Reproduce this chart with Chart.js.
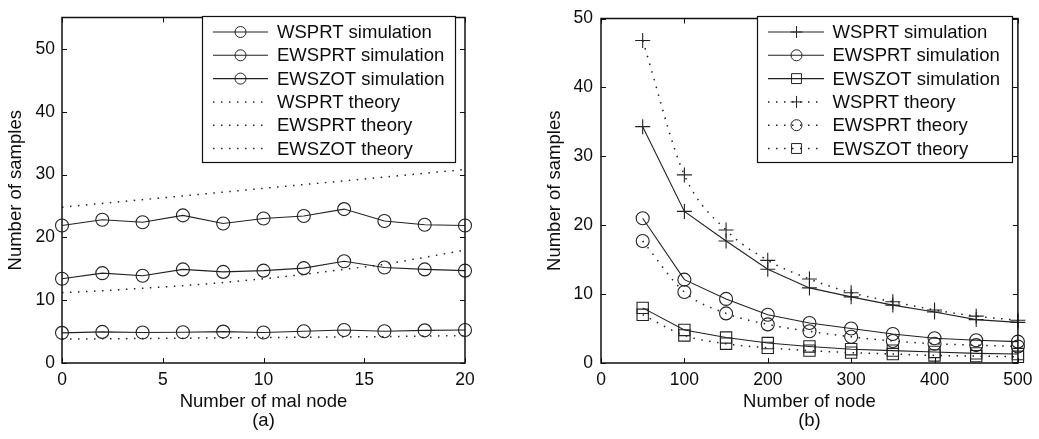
<!DOCTYPE html>
<html><head><meta charset="utf-8">
<script src="https://cdn.jsdelivr.net/npm/chart.js@4.4.0/dist/chart.umd.min.js"></script>
<style>
html,body{margin:0;padding:0;background:#fff;width:1039px;height:439px;overflow:hidden}
#ca{position:absolute;left:0;top:0}
#cb{position:absolute;left:520px;top:0}
</style></head><body>
<canvas id="ca" width="520" height="439"></canvas>
<canvas id="cb" width="519" height="439"></canvas>
<script>
// ---------- data: panel (a) ----------
const malNodes    = [0, 2, 4, 6, 8, 10, 12, 14, 16, 18, 20];
const wsprtSimA   = [21.9, 22.8, 22.4, 23.5, 22.2, 23.0, 23.4, 24.5, 22.6, 22.0, 21.9];
const ewsprtSimA  = [13.4, 14.3, 13.9, 14.9, 14.5, 14.7, 15.1, 16.2, 15.2, 14.9, 14.7];
const ewszotSimA  = [4.8, 4.95, 4.85, 4.9, 5.0, 4.85, 5.05, 5.25, 5.05, 5.2, 5.25];
const wsprtThA    = [24.8, 25.4, 26.0, 26.6, 27.2, 27.8, 28.4, 29.0, 29.6, 30.2, 30.8];
const ewsprtThA   = [11.2, 11.5, 11.9, 12.3, 12.8, 13.4, 14.1, 14.9, 15.7, 16.8, 18.0];
const ewszotThA   = [3.8, 3.85, 3.9, 3.95, 4.0, 4.05, 4.1, 4.15, 4.2, 4.3, 4.35];
const xTicksA     = [0, 5, 10, 15, 20];
const yTicksA     = [0, 10, 20, 30, 40, 50];

// ---------- data: panel (b) ----------
const nodes       = [50, 100, 150, 200, 250, 300, 350, 400, 450, 500];
const wsprtSimB   = [34.3, 22.0, 17.7, 13.6, 10.9, 9.6, 8.4, 7.4, 6.3, 5.9];
const wsprtThB    = [46.8, 27.3, 19.3, 14.9, 12.2, 10.2, 8.9, 7.7, 6.8, 6.2];
const ewsprtSimB  = [21.0, 12.1, 9.3, 7.0, 5.8, 5.0, 4.2, 3.6, 3.3, 3.1];
const ewsprtThB   = [17.7, 10.3, 7.2, 5.6, 4.6, 3.8, 3.2, 2.8, 2.6, 2.4];
const ewszotSimB  = [8.0, 4.8, 3.7, 2.9, 2.4, 2.0, 1.8, 1.6, 1.4, 1.3];
const ewszotThB   = [7.0, 4.0, 2.8, 2.2, 1.8, 1.5, 1.3, 1.1, 1.0, 0.9];
const xTicksB     = [0, 100, 200, 300, 400, 500];
const yTicksB     = [0, 10, 20, 30, 40, 50];

// ---------- styling ----------
const FAM = "'Liberation Sans', Arial, Helvetica, sans-serif";
const TXT = '#0d0d0d';
const LINE = '#222';
const tickFont = {family: FAM, size: 17.5, lineHeight: 1.2};
const titleFont = {family: FAM, size: 18.5, lineHeight: 1.0};

function ds(label, xs, ys, style, dotted, radius, smooth) {
  return {
    label,
    data: xs.map((x, i) => ({x, y: ys[i]})),
    borderColor: LINE,
    borderWidth: dotted ? 1.5 : 1.1,
    borderDash: dotted ? [1.5, 6.5] : [],
    pointStyle: style,
    pointRadius: radius,
    pointBorderColor: LINE,
    pointBackgroundColor: 'rgba(0,0,0,0)',
    pointBorderWidth: 1.1,
    clip: false,
    fill: false,
    tension: 0,
    cubicInterpolationMode: smooth ? 'monotone' : 'default'
  };
}

function drawMarker(ctx, style, x, y, r) {
  ctx.beginPath();
  if (style === 'circle') {
    ctx.arc(x, y, r, 0, Math.PI * 2);
  } else if (style === 'cross') {
    ctx.moveTo(x - r, y); ctx.lineTo(x + r, y);
    ctx.moveTo(x, y - r); ctx.lineTo(x, y + r);
  } else if (style === 'rect') {
    const s = r * Math.SQRT1_2;
    ctx.rect(x - s, y - s, 2 * s, 2 * s);
  }
  ctx.stroke();
}

const frameTicks = {
  id: 'frameTicks',
  afterDatasetsDraw(chart, args, o) {
    const {ctx, chartArea: a, scales} = chart;
    const L = o.len;
    ctx.save();
    ctx.strokeStyle = '#111';
    ctx.lineWidth = 1;
    ctx.setLineDash([]);
    ctx.beginPath();
    scales.x.ticks.forEach(t => {
      const px = Math.round(scales.x.getPixelForValue(t.value)) + 0.5;
      ctx.moveTo(px, a.bottom); ctx.lineTo(px, a.bottom - L);
      ctx.moveTo(px, a.top); ctx.lineTo(px, a.top + L);
    });
    scales.y.ticks.forEach(t => {
      const py = Math.round(scales.y.getPixelForValue(t.value)) + 0.5;
      ctx.moveTo(a.left, py); ctx.lineTo(a.left + L, py);
      ctx.moveTo(a.right, py); ctx.lineTo(a.right - L, py);
    });
    ctx.stroke();
    ctx.lineWidth = 1.5;
    ctx.strokeRect(a.left, a.top, a.right - a.left, a.bottom - a.top);
    ctx.restore();
  }
};

const boxLegend = {
  id: 'boxLegend',
  afterDraw(chart, args, o) {
    const {ctx} = chart;
    ctx.save();
    ctx.fillStyle = '#fff';
    ctx.fillRect(o.x, o.y, o.w, o.h);
    ctx.strokeStyle = '#111';
    ctx.lineWidth = 1.2;
    ctx.setLineDash([]);
    ctx.strokeRect(o.x + 0.5, o.y + 0.5, o.w, o.h);
    chart.data.datasets.forEach((d, i) => {
      const yy = o.y0 + i * o.dy;
      ctx.strokeStyle = d.borderColor;
      ctx.lineWidth = d.borderWidth;
      ctx.setLineDash(d.borderDash || []);
      ctx.beginPath();
      ctx.moveTo(o.lx0, yy); ctx.lineTo(o.lx1, yy);
      ctx.stroke();
      ctx.setLineDash([]);
      if (d.pointRadius > 0) {
        ctx.lineWidth = 1;
        ctx.strokeStyle = d.pointBorderColor;
        drawMarker(ctx, d.pointStyle, o.mx, yy, o.mr[d.pointStyle]);
      }
      ctx.fillStyle = TXT;
      ctx.font = o.fontSize + 'px ' + FAM;
      ctx.textBaseline = 'middle';
      ctx.textAlign = 'left';
      ctx.fillText(d.label, o.tx, yy + 1);
    });
    ctx.restore();
  }
};

function makeChart(id, cfg) {
  return new Chart(document.getElementById(id), {
    type: 'line',
    data: {datasets: cfg.datasets},
    plugins: [frameTicks, boxLegend],
    options: {
      responsive: false,
      animation: false,
      devicePixelRatio: 1,
      events: [],
      layout: {padding: cfg.pad},
      plugins: {
        legend: {display: false},
        tooltip: {enabled: false},
        frameTicks: {len: 5},
        boxLegend: cfg.legend
      },
      scales: {
        x: {
          type: 'linear', min: cfg.xMin, max: cfg.xMax,
          afterBuildTicks: s => { s.ticks = cfg.xTicks.map(v => ({value: v})); },
          afterFit: s => { s.height = cfg.xH; },
          grid: {display: false, drawTicks: false},
          border: {display: false},
          ticks: {font: tickFont, color: TXT, padding: 6.5, maxRotation: 0, autoSkip: false},
          title: {display: true, text: cfg.xTitle, font: titleFont, color: TXT, padding: 0}
        },
        y: {
          type: 'linear', min: cfg.yMin, max: cfg.yMax,
          afterBuildTicks: s => { s.ticks = cfg.yTicks.map(v => ({value: v})); },
          afterFit: s => { s.width = cfg.yW; },
          grid: {display: false, drawTicks: false},
          border: {display: false},
          ticks: {font: tickFont, color: TXT, padding: cfg.yPad, autoSkip: false},
          title: {display: true, text: 'Number of samples', font: titleFont, color: TXT, padding: 0}
        }
      }
    }
  });
}

makeChart('ca', {
  datasets: [
    ds('WSPRT simulation', malNodes, wsprtSimA, 'circle', false, 6.5),
    ds('EWSPRT simulation', malNodes, ewsprtSimA, 'circle', false, 6.5),
    ds('EWSZOT simulation', malNodes, ewszotSimA, 'circle', false, 6.5),
    ds('WSPRT theory', malNodes, wsprtThA, 'circle', true, 0),
    ds('EWSPRT theory', malNodes, ewsprtThA, 'circle', true, 0),
    ds('EWSZOT theory', malNodes, ewszotThA, 'circle', true, 0)
  ],
  pad: {left: 7, top: 6, right: 55, bottom: 9},
  xMin: 0, xMax: 20, yMin: 0, yMax: 55,
  xTicks: xTicksA, yTicks: yTicksA,
  xH: 67, yW: 55, yPad: 7,
  xTitle: ['Number of mal node', '(a)'],
  legend: {x: 202, y: 16, w: 253, h: 146, y0: 32, dy: 23.3, lx0: 213, lx1: 268, mx: 240.5, tx: 277,
           fontSize: 18.5, mr: {circle: 5.5, cross: 6, rect: 7}}
});

makeChart('cb', {
  datasets: [
    ds('WSPRT simulation', nodes, wsprtSimB, 'cross', false, 7.5),
    ds('EWSPRT simulation', nodes, ewsprtSimB, 'circle', false, 6.5),
    ds('EWSZOT simulation', nodes, ewszotSimB, 'rect', false, 8),
    ds('WSPRT theory', nodes, wsprtThB, 'cross', true, 7.5, true),
    ds('EWSPRT theory', nodes, ewsprtThB, 'circle', true, 6.5, true),
    ds('EWSZOT theory', nodes, ewszotThB, 'rect', true, 8, true)
  ],
  pad: {left: 26, top: 7, right: 18, bottom: 9},
  xMin: 0, xMax: 500, yMin: 0, yMax: 50,
  xTicks: xTicksB, yTicks: yTicksB,
  xH: 67, yW: 55, yPad: 8,
  xTitle: ['Number of node', '(b)'],
  legend: {x: 237, y: 16, w: 255, h: 146, y0: 32, dy: 23.3, lx0: 248, lx1: 304, mx: 276.5, tx: 312.5,
           fontSize: 18.5, mr: {circle: 5.5, cross: 6, rect: 7}}
});
</script>
</body></html>
